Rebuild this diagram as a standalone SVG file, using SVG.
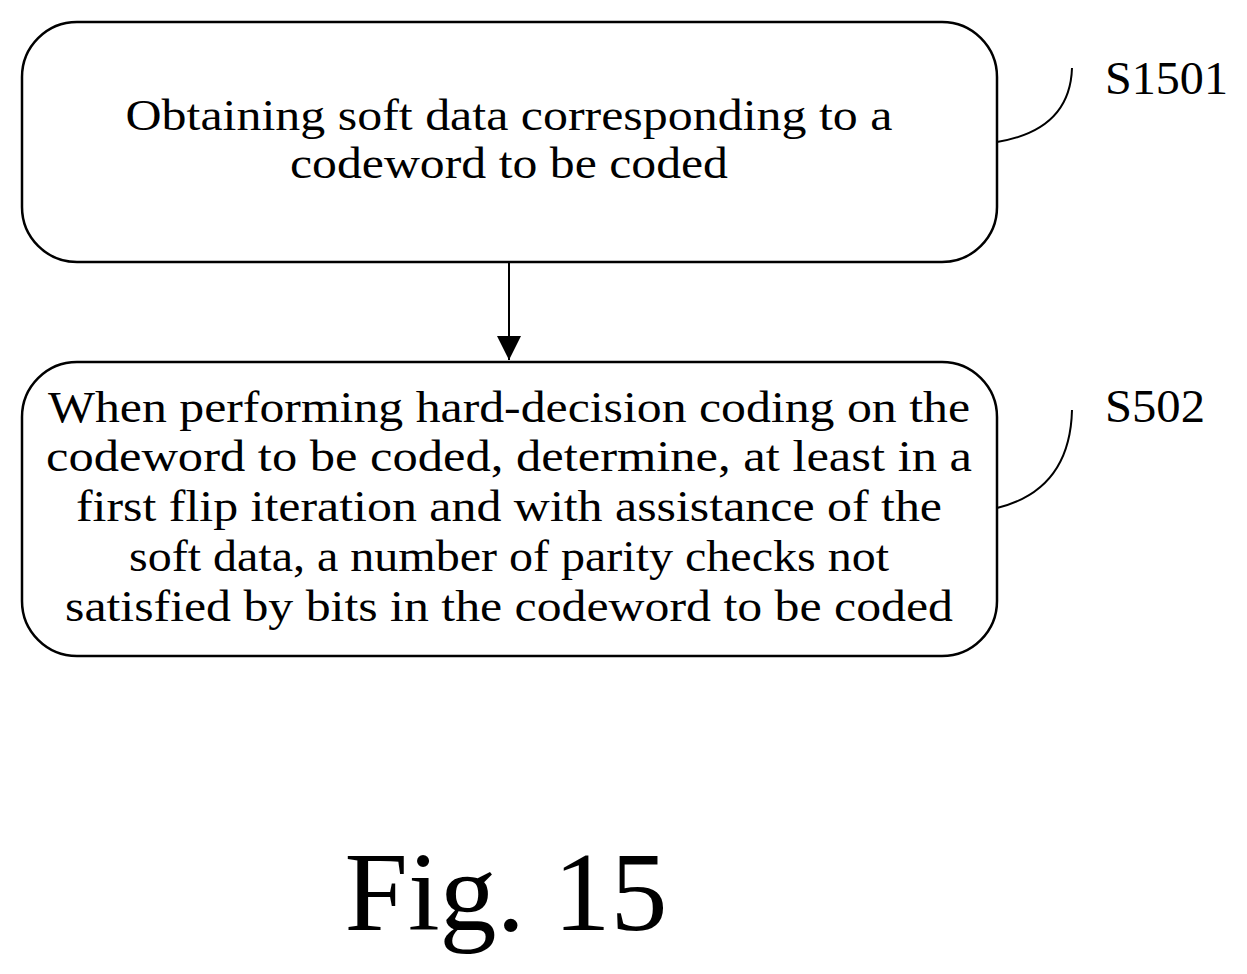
<svg xmlns="http://www.w3.org/2000/svg" width="1247" height="974" viewBox="0 0 1247 974">
<style>
.box{fill:#fff;stroke:#000;stroke-width:2.5}
.t{font-family:"Liberation Serif",serif;font-size:45px;fill:#000;text-anchor:middle}
.l{font-family:"Liberation Serif",serif;font-size:46px;fill:#000}
.c{fill:none;stroke:#000;stroke-width:2}
</style>
<defs><marker id="a" markerWidth="26" markerHeight="26" refX="24" refY="12" orient="auto" markerUnits="userSpaceOnUse"><path d="M0,0L24,12L0,24Z" fill="#000"/></marker></defs>
<rect width="1247" height="974" fill="#fff"/>
<g id="n1"><rect class="box" x="22" y="22" width="975" height="240" rx="55"/>
<text class="t" x="509" y="130" textLength="767" lengthAdjust="spacingAndGlyphs">Obtaining soft data corresponding to a</text>
<text class="t" x="509" y="178" textLength="438" lengthAdjust="spacingAndGlyphs">codeword to be coded</text></g>
<g id="n2"><rect class="box" x="22" y="362" width="975" height="294" rx="55"/>
<text class="t" x="509" y="422" textLength="922" lengthAdjust="spacingAndGlyphs">When performing hard-decision coding on the</text>
<text class="t" x="509" y="471" textLength="926" lengthAdjust="spacingAndGlyphs">codeword to be coded, determine,  at least in a</text>
<text class="t" x="509" y="521" textLength="866" lengthAdjust="spacingAndGlyphs">first flip iteration and with assistance of the</text>
<text class="t" x="509" y="571" textLength="760" lengthAdjust="spacingAndGlyphs">soft data, a number of parity checks not</text>
<text class="t" x="509" y="621" textLength="888" lengthAdjust="spacingAndGlyphs">satisfied by bits in the codeword to be coded</text></g>
<g id="connectors">
<line class="c" x1="509" y1="262" x2="509" y2="360" marker-end="url(#a)"/>
<path class="c" d="M997,142 Q1070,130 1072,68"/>
<path class="c" d="M997,508 Q1070,490 1072,410"/>
</g>
<text class="l" x="1105" y="94" textLength="123" lengthAdjust="spacingAndGlyphs">S1501</text>
<text class="l" x="1105" y="422" textLength="100" lengthAdjust="spacingAndGlyphs">S502</text>
<text class="t" x="506" y="930" style="font-size:112px" textLength="323" lengthAdjust="spacingAndGlyphs">Fig. 15</text>
</svg>
